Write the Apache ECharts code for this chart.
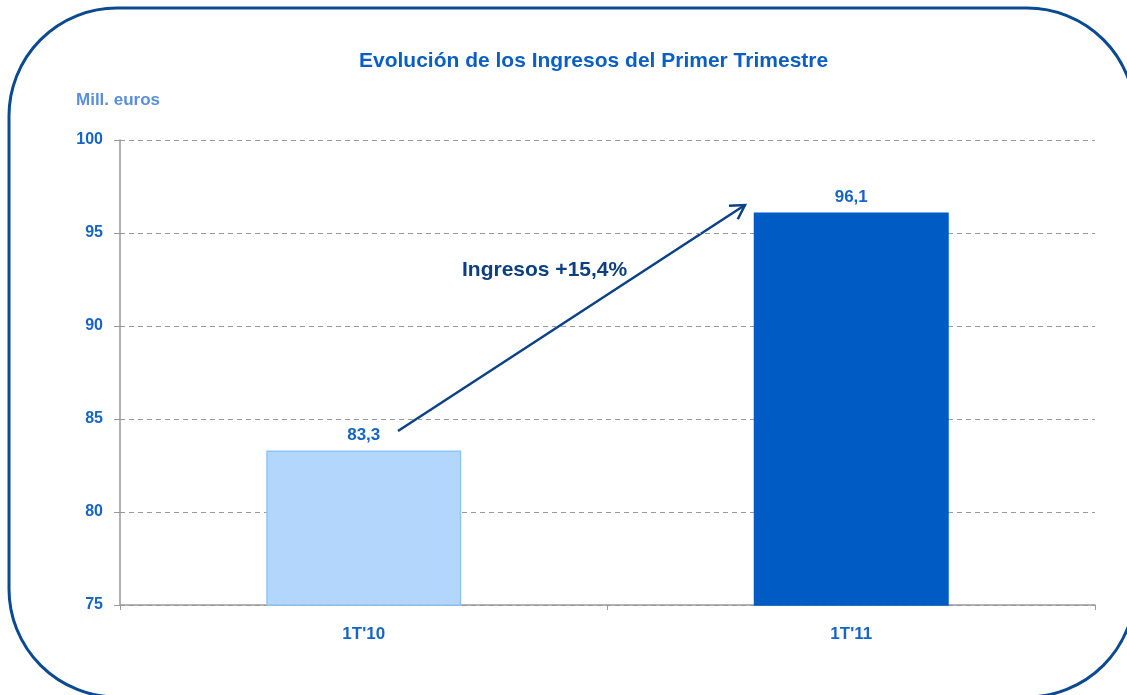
<!DOCTYPE html>
<html>
<head>
<meta charset="utf-8">
<script src="https://cdn.jsdelivr.net/npm/echarts@6/dist/echarts.min.js"></script>
<style>
  html, body { margin: 0; padding: 0; background: #fff; }
  #chart { width: 1127px; height: 695px; }
</style>
</head>
<body>
<div id="chart"></div>
<script>
  const categories = ["1T'10", "1T'11"];
  const ingresos = [83.3, 96.1];
  const barColors = ['#b3d6fd', '#005cc5'];
  const barBorders = ['#8ec5f9', '#005cc5'];

  const fontFamily = '"Liberation Sans", Arial, sans-serif';
  const labelBlue = '#1565c8';

  const chart = echarts.init(document.getElementById('chart'));

  // flecha del incremento (anotación)
  const p0 = [398, 431];
  const p1 = [745, 205];
  const dx = p1[0] - p0[0], dy = p1[1] - p0[1];
  const len = Math.sqrt(dx * dx + dy * dy);
  const ux = dx / len, uy = dy / len;
  const head = 16, ang = Math.PI / 6;
  function rot(a) {
    return [
      p1[0] - head * (ux * Math.cos(a) - uy * Math.sin(a)),
      p1[1] - head * (ux * Math.sin(a) + uy * Math.cos(a))
    ];
  }

  const option = {
    animation: false,
    title: {
      text: 'Evolución de los Ingresos del Primer Trimestre',
      left: 354,
      top: 46,
      textStyle: { color: '#0a5fc4', fontSize: 21, fontWeight: 'bold', fontFamily }
    },
    grid: { left: 120, right: 32, top: 140, bottom: 90 },
    xAxis: {
      type: 'category',
      data: categories,
      axisLine: { lineStyle: { color: '#999', width: 1.5 } },
      axisTick: { show: true, length: 5, lineStyle: { color: '#999' } },
      axisLabel: { color: labelBlue, fontSize: 17, fontWeight: 'bold', fontFamily, margin: 21 }
    },
    yAxis: {
      type: 'value',
      min: 75,
      max: 100,
      interval: 5,
      name: 'Mill. euros',
      nameLocation: 'end',
      nameGap: 31,
      nameTextStyle: { color: '#5b8fd9', fontSize: 17, fontWeight: 'bold', fontFamily, align: 'left', padding: [0, 0, 0, -44] },
      axisLine: { show: true, lineStyle: { color: '#999', width: 1.5 } },
      axisTick: { show: true, length: 6, lineStyle: { color: '#999' } },
      axisLabel: { color: labelBlue, fontSize: 16, fontWeight: 'bold', fontFamily, margin: 17 },
      splitLine: { lineStyle: { color: '#999', type: [5, 4], width: 1 } }
    },
    series: [{
      type: 'bar',
      barWidth: '40%',
      data: ingresos.map((v, i) => ({
        value: v,
        itemStyle: { color: barColors[i], borderColor: barBorders[i], borderWidth: 1.5 }
      })),
      label: {
        show: true,
        position: 'top',
        distance: 7,
        color: labelBlue,
        fontSize: 17,
        fontWeight: 'bold',
        fontFamily,
        formatter: p => String(p.value).replace('.', ',')
      }
    }],
    graphic: [
      {
        type: 'rect',
        silent: true,
        shape: { x: 9, y: 8, width: 1126, height: 689, r: 108 },
        style: { fill: null, stroke: '#0a4a91', lineWidth: 3 }
      },
      {
        type: 'line',
        silent: true,
        shape: { x1: p0[0], y1: p0[1], x2: p1[0], y2: p1[1] },
        style: { stroke: '#0b4186', lineWidth: 2.5 }
      },
      {
        type: 'polyline',
        silent: true,
        shape: { points: [rot(ang), p1, rot(-ang)] },
        style: { stroke: '#0b4186', lineWidth: 2.5, fill: null }
      },
      {
        type: 'text',
        silent: true,
        left: 462,
        top: 260,
        style: { text: 'Ingresos +15,4%', fill: '#0c3f80', fontSize: 21, fontWeight: 'bold', fontFamily }
      }
    ]
  };

  chart.setOption(option);
</script>
</body>
</html>
